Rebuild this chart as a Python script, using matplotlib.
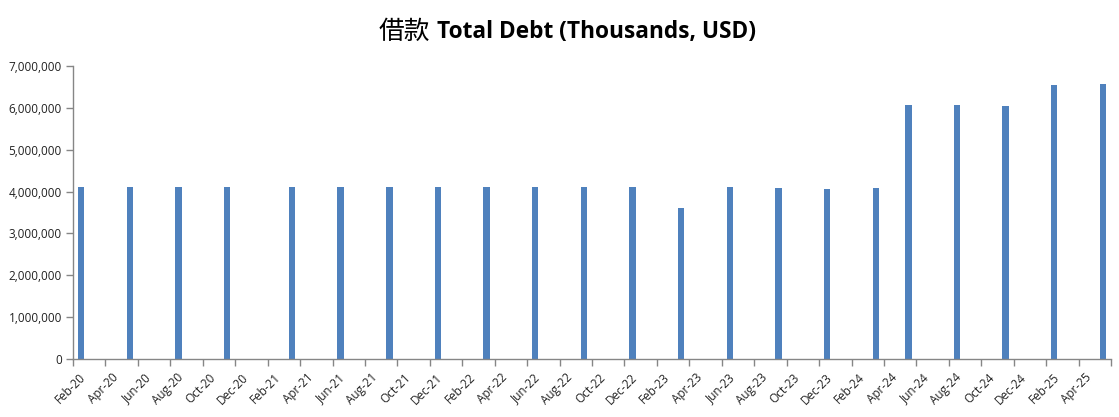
import matplotlib
matplotlib.use('Agg')
import matplotlib.pyplot as plt
import matplotlib.transforms as mtransforms
import pandas as pd
from matplotlib.ticker import FuncFormatter, FixedLocator

# ---- data ----
axis_start = '2020-02'
axis_end = '2025-06'   # exclusive end of the date axis
report_months = ['2020-02', '2020-05', '2020-08', '2020-11', '2021-03', '2021-06',
                 '2021-09', '2021-12', '2022-03', '2022-06', '2022-09', '2022-12',
                 '2023-03', '2023-06', '2023-09', '2023-12', '2024-03', '2024-05',
                 '2024-08', '2024-11', '2025-02', '2025-05']
total_debt = [4115000, 4115000, 4115000, 4115000, 4115000, 4115000,
              4115000, 4115000, 4115000, 4115000, 4115000, 4115000,
              3610000, 4115000, 4085000, 4060000, 4085000, 6068000,
              6068000, 6044000, 6553000, 6577000]
title_cn = '借款'
title_en = 'Total Debt (Thousands, USD)'

start = pd.Period(axis_start, 'M')
end = pd.Period(axis_end, 'M')
n_months = (end - start).n
xpos = [(pd.Period(m, 'M') - start).n + 0.5 for m in report_months]
all_months = pd.period_range(start, end, freq='M')
tick_periods = all_months[::2]
tick_pos = [(p - start).n for p in tick_periods]
tick_labels = [p.strftime('%b-%y') if (p - start).n < n_months else '' for p in tick_periods]

W, H = 1119, 417
fig = plt.figure(figsize=(W / 100, H / 100), dpi=100)
ax = fig.add_axes([73 / W, 1 - 359 / H, (1111 - 73) / W, (359 - 66) / H])

ax.bar(xpos, total_debt, width=0.4, color='#4F81BD', zorder=2)

ax.set_xlim(0, n_months)
ax.set_ylim(0, 7000000)
ax.yaxis.set_major_locator(FixedLocator(range(0, 7000001, 1000000)))
ax.yaxis.set_major_formatter(FuncFormatter(lambda v, p: f'{int(v):,}'))
ax.set_xticks(tick_pos)

gray = '#868686'
for s in ['top', 'right']:
    ax.spines[s].set_visible(False)
for s in ['left', 'bottom']:
    ax.spines[s].set_color(gray)
    ax.spines[s].set_linewidth(1)
ax.tick_params(axis='both', colors=gray, length=5, width=1, labelcolor='#222222')
ax.tick_params(axis='x', pad=4)
ax.tick_params(axis='y', pad=3)

ax.set_xticklabels(tick_labels, rotation=45, ha='right', va='center',
                   rotation_mode='anchor', fontsize=8.5, family='Open Sans')
shift = mtransforms.ScaledTranslation(11 / 100, -4 / 100, fig.dpi_scale_trans)
for lab in ax.get_xticklabels():
    lab.set_transform(lab.get_transform() + shift)
for lab in ax.get_yticklabels():
    lab.set_family('Open Sans')
    lab.set_fontsize(8.5)

t_en = fig.text(437 / W, 1 - 32 / H, title_en, ha='left', va='center',
                fontsize=16.3, fontweight='bold', family='Open Sans', color='black')
ax.annotate(title_cn, xy=(0, 0.5), xycoords=t_en, xytext=(-5, 0),
            textcoords='offset points', ha='right', va='center',
            fontsize=18.5, family='Noto Sans CJK SC', fontweight='light', color='black')

fig.savefig('out.png', dpi=100)
